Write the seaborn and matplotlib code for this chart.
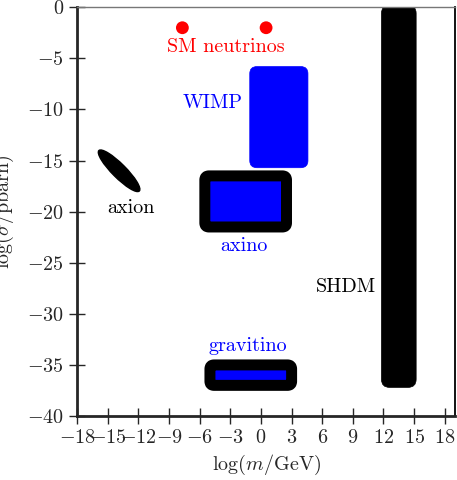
import matplotlib
matplotlib.use("Agg")
import matplotlib.pyplot as plt
import seaborn as sns
import pandas as pd
from matplotlib.patches import FancyBboxPatch, Ellipse

# data
nu_mass = [-7.7, 0.5]
nu_sigma = [-2.0, -2.0]

box_names = ["WIMP", "axino", "gravitino", "SHDM"]
box_x0 = [-1.1, -5.5, -5.0, 11.8]
box_x1 = [4.6, 2.5, 3.0, 15.2]
box_y0 = [-15.7, -21.5, -37.0, -37.2]
box_y1 = [-5.8, -16.5, -35.0, 0.2]
box_face = ["blue", "blue", "blue", "black"]
box_edge = ["blue", "black", "black", "black"]
box_lw = [0.5, 7.9, 7.9, 0.5]
box_round = [0.7, 0.4, 0.4, 0.8]

axion_center = (-13.9, -16.0)
axion_size = (5.6, 1.35)
axion_angle = -45

label_text = ["SM neutrinos", "WIMP", "axion", "axino", "gravitino", "SHDM"]
label_x = [-3.4, -4.75, -12.7, -1.7, -1.3, 8.3]
label_y = [-3.9, -9.35, -19.6, -23.4, -33.1, -27.4]
label_color = ["red", "blue", "black", "blue", "blue", "black"]

xticks = list(range(-18, 19, 3))
yticks = list(range(-40, 1, 5))

sns.set_theme(style="ticks")
plt.rcParams.update({
    "font.family": ["cmr10", "DejaVu Serif"],
    "mathtext.fontset": "cm",
    "axes.formatter.use_mathtext": True,
    "axes.unicode_minus": True,
})

fig = plt.figure(figsize=(4.57, 4.80), dpi=100)
ax = fig.add_axes([0.169, 0.1333, 0.8265, 0.8515])

for i in range(len(box_names)):
    patch = FancyBboxPatch(
        (box_x0[i], box_y0[i]), box_x1[i] - box_x0[i], box_y1[i] - box_y0[i],
        boxstyle=f"round,pad=0,rounding_size={box_round[i]}",
        facecolor=box_face[i], edgecolor=box_edge[i], linewidth=box_lw[i],
        joinstyle="round", zorder=2)
    ax.add_patch(patch)

ax.add_patch(Ellipse(axion_center, axion_size[0], axion_size[1],
                     angle=axion_angle, color="black", zorder=2))

nu = pd.DataFrame({"m": nu_mass, "s": nu_sigma})
sns.scatterplot(data=nu, x="m", y="s", ax=ax, color="red", s=85,
                edgecolor="none", zorder=3)

for t, x, y, c in zip(label_text, label_x, label_y, label_color):
    ax.text(x, y, t, color=c, fontsize=14.5, ha="center", va="center")

ax.set_xlim(-18, 19)
ax.set_ylim(-40, 0)
ax.set_xticks(xticks)
ax.set_yticks(yticks)
ax.set_xlabel(r"$\log(m/\mathrm{GeV})$", fontsize=14.5, labelpad=4)
ax.set_ylabel(r"$\log(\sigma/\mathrm{pbarn})$", fontsize=14.5, labelpad=8)
ax.tick_params(direction="inout", length=12, width=1, labelsize=14.5,
               top=False, right=False)

ax.spines["left"].set_linewidth(2)
ax.spines["bottom"].set_linewidth(2)
ax.spines["top"].set_linewidth(1)
ax.spines["top"].set_color("#777777")
ax.spines["right"].set_linewidth(1.3)
ax.spines["right"].set_color("black")

fig.savefig("out.png", dpi=100)
